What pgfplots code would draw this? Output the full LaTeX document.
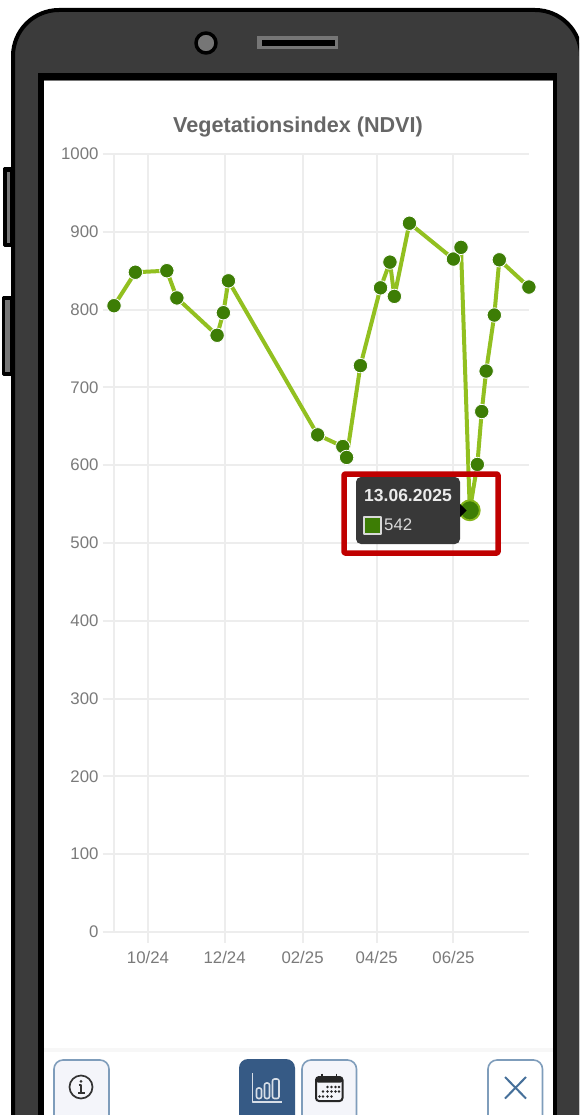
\documentclass[border=0pt]{standalone}
\usepackage{pgfplots}
\pgfplotsset{compat=1.18}
\usepackage{fontspec}
\setmainfont{Liberation Sans}
\definecolor{body}{HTML}{3B3B3B}
\definecolor{grayin}{HTML}{767676}
\definecolor{gridc}{HTML}{EDEDED}
\definecolor{labc}{HTML}{7A7A7A}
\definecolor{titlec}{HTML}{666666}
\definecolor{linec}{HTML}{92C020}
\definecolor{markc}{HTML}{3D7D05}
\definecolor{redc}{HTML}{C00000}
\definecolor{tipc}{HTML}{383838}
\definecolor{btnb}{HTML}{7F9DBB}
\definecolor{btnf}{HTML}{F4F5FA}
\definecolor{btna}{HTML}{365A85}
\definecolor{xblue}{HTML}{46709A}
\pgfplotstableread{
day value
-27 805
-10 848
15 850
23 815
55 767
60 796
64 837
135 639
155 624
158 610
169 728
185 828
192.5 861
196 817
208 911
243 865
249 880
256 542
262 601
265.5 669
269 721
275.5 793
279.5 864
303 829
}\ndvi
\pgfplotstableread{
day value
256 542
}\selected
\begin{document}
\begin{tikzpicture}[x=1pt,y=-1pt,line join=round]
\clip (0,0) rectangle (579,1115);
\fill[white] (0,0) rectangle (579,1115);
% side buttons
\filldraw[black,line width=3pt] (4.2,168.5) rectangle (12,245.5);
\fill[grayin] (6.5,172) rectangle (10,243);
\filldraw[black,line width=3pt] (3,297.5) rectangle (12,374.5);
\fill[grayin] (5,300) rectangle (10,372);
% body
\filldraw[draw=black,fill=body,line width=4pt,rounded corners=46pt] (13,1300) -- (13,10) -- (581,10) -- (581,1300) -- cycle;
% screen
\fill[black] (38,73) rectangle (557,1130);
\fill[white] (44,80) rectangle (552.5,1130);
\draw[grayin,line width=.8pt] (44,80) -- (552.5,80);
% camera and speaker
\filldraw[draw=black,fill=grayin,line width=3.5pt] (206,43) circle[radius=10];
\fill[grayin] (257,36) rectangle (337.5,49);
\fill[black] (262,40) rectangle (335,46);
% bottom bar
\fill[black!3] (44,1048) rectangle (552.5,1052);
% chart
\begin{axis}[
  at={(113.5pt,-932pt)},anchor=south west,
  scale only axis,width=415.5pt,height=778pt,
  xmin=-27.4,xmax=303.1,ymin=0,ymax=1000,
  axis lines*=left,
  axis line style={gridc,line width=2pt,-},
  ytick={0,100,...,1000},
  xtick={0,61,123,182,243},
  xticklabels={10/24,12/24,02/25,04/25,06/25},
  grid=major,
  major grid style={gridc,line width=2pt},
  tick style={gridc,line width=2pt},
  tick align=outside,
  major tick length=10.5pt,
  tick label style={font=\fontsize{16.8}{18}\selectfont,text=labc},
  /pgf/number format/assume math mode=true,
  /pgf/number format/set thousands separator={},
  xticklabel style={yshift=-5.5pt},
  yticklabel style={xshift=-1pt},
  clip=false,
]
\addplot[linec,line width=4pt,line join=round,
  mark=*,mark size=7.2pt,mark options={draw=white,line width=.8pt,fill=markc}]
  table[x=day,y=value]{\ndvi};
\addplot[only marks,mark=*,mark size=10pt,mark options={draw=linec!85!markc,line width=1.8pt,fill=markc}]
  table[x=day,y=value]{\selected};
\end{axis}
\node[font=\bfseries\fontsize{21.6}{24}\selectfont,text=titlec] at (298,127) {Vegetationsindex (NDVI)};
% tooltip
\fill[tipc,rounded corners=5pt] (356,477) rectangle (460,544);
\fill[black] (460,504) -- (466.5,510.5) -- (460,517) -- cycle;
\node[font=\bfseries\fontsize{17.5}{20}\selectfont,text=white!92!black,anchor=west,inner sep=0pt] at (364,495.5) {13.06.2025};
\filldraw[draw=white!85!black,fill=markc,line width=1.4pt] (364,517) rectangle (381,534);
\node[font=\fontsize{16.8}{19}\selectfont,text=white!85!black,anchor=west,inner sep=0pt] at (384,525) {542};
\draw[redc,line width=5.5pt,rounded corners=1pt] (344,474) rectangle (498,553);
% buttons
\filldraw[draw=btnb,fill=btnf,line width=1.6pt,rounded corners=9pt] (54,1060) rectangle (109,1135);
\filldraw[draw=btnb,fill=btnf,line width=1.6pt,rounded corners=9pt] (302,1060) rectangle (356.5,1135);
\filldraw[draw=btnb,fill=white,line width=1.6pt,rounded corners=9pt] (488,1060) rectangle (542.5,1135);
\fill[btna,rounded corners=9pt] (239,1059) rectangle (295,1135);
% info icon
\draw[black!80,line width=1.7pt] (81,1087) circle[radius=11.5];
\fill[black!80] (81,1081.3) circle[radius=1.5];
\draw[black!80,line width=1.8pt] (78.5,1085) -- (81.3,1085) -- (81.3,1092.5);
\draw[black!80,line width=1.6pt] (78,1092.8) -- (84.5,1092.8);
% chart icon
\begin{scope}[white!80!btna,line width=1.6pt]
\draw (252.5,1073) -- (252.5,1102) -- (282,1102);
\draw[rounded corners=2pt] (256.5,1088) rectangle (261.5,1098.5);
\draw[rounded corners=2pt] (264.5,1083) rectangle (269.5,1098.5);
\draw[rounded corners=2pt] (272.5,1079) rectangle (279,1098.5);
\end{scope}
% calendar icon
\filldraw[draw=black!85,fill=btnf,line width=2pt,rounded corners=3pt] (316,1077) rectangle (342.5,1101);
\fill[black!85,rounded corners=2pt] (316,1077) rectangle (342.5,1082.5);
\draw[black!85,line width=1.6pt] (322,1073.5) -- (322,1078) (336.5,1073.5) -- (336.5,1078);
\foreach \p in {(327.5,1087),(331.5,1087),(335.5,1087),(339,1087),(323,1091.5),(327.5,1091.5),(331.5,1091.5),(335.5,1091.5),(339,1091.5),(319.5,1096.5),(323,1096.5),(327.5,1096.5),(331.5,1096.5)}
  \fill[black!85] \p circle[radius=1.3];
% close icon
\draw[xblue,line width=2pt] (505,1077) -- (526,1098.5) (526,1077) -- (505,1098.5);
\end{tikzpicture}
\end{document}
